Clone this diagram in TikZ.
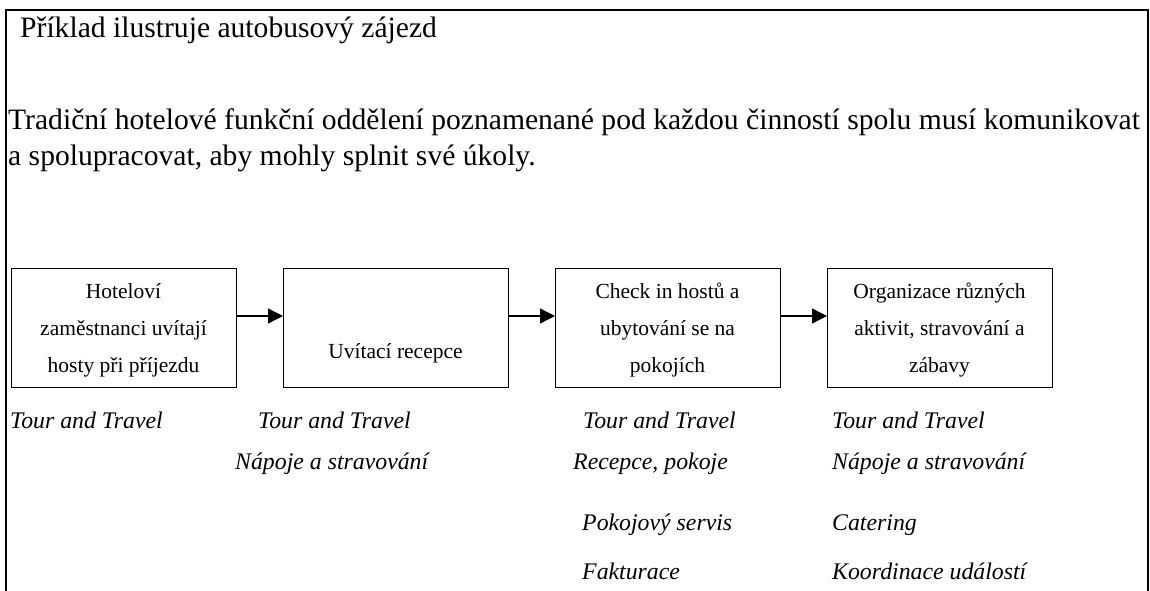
\documentclass[tikz,border=0pt]{standalone}
\usepackage{fontspec}
\setmainfont{Liberation Serif}
\usetikzlibrary{arrows.meta}
\begin{document}
\begin{tikzpicture}[x=1pt,y=-1pt,
  body/.style={font=\fontsize{29.6}{34}\selectfont, anchor=base west, inner sep=0pt},
  lab/.style={font=\fontsize{23.8}{28}\selectfont\itshape, anchor=base west, inner sep=0pt},
  boxtxt/.style={font=\fontsize{21.5}{25}\selectfont, anchor=base, inner sep=0pt},
  stepbox/.style={draw, line width=1.3pt, minimum width=225pt, minimum height=119pt, inner sep=0pt, anchor=north west},
  conn/.style={line width=1.3pt, -{Triangle[length=15pt,width=15pt]}}
]
\useasboundingbox (0,0) rectangle (1150,591);
\draw[line width=2pt] (6,591) -- (6,10) -- (1148,10) -- (1148,591);

\node[body] (t1) at (20,38) {Příklad ilustruje autobusový zájezd};
\node[body] (t2) at (8,129) {Tradiční hotelové funkční oddělení poznamenané pod každou činností spolu musí komunikovat};
\node[body] (t3) at (8,165) {a spolupracovat, aby mohly splnit své úkoly.};

\node[stepbox] (b1) at (11,268) {};
\node[stepbox] (b2) at (283,268) {};
\node[stepbox] (b3) at (555,268) {};
\node[stepbox] (b4) at (827,268) {};

\node[boxtxt] (b1a) at (123.5,298) {Hoteloví};
\node[boxtxt] (b1b) at (123.5,335) {zaměstnanci uvítají};
\node[boxtxt] (b1c) at (123.5,372) {hosty při příjezdu};
\node[boxtxt] (b2a) at (395.5,358) {Uvítací recepce};
\node[boxtxt] (b3a) at (667.5,298) {Check in hostů a};
\node[boxtxt] (b3b) at (667.5,335) {ubytování se na};
\node[boxtxt] (b3c) at (667.5,372) {pokojích};
\node[boxtxt] (b4a) at (939.5,298) {Organizace různých};
\node[boxtxt] (b4b) at (939.5,335) {aktivit, stravování a};
\node[boxtxt] (b4c) at (939.5,372) {zábavy};

\coordinate (a1) at (236,316);
\coordinate (a2) at (508,316);
\coordinate (a3) at (780,316);
\draw[conn] (a1) -- (a1 -| b2.west);
\draw[conn] (a2) -- (a2 -| b3.west);
\draw[conn] (a3) -- (a3 -| b4.west);

\node[lab] (l11) at (10,428) {Tour and Travel};
\node[lab] (l21) at (258,428) {Tour and Travel};
\node[lab] (l22) at (235,469) {Nápoje a stravování};
\node[lab] (l31) at (583,428) {Tour and Travel};
\node[lab] (l32) at (573,469) {Recepce, pokoje};
\node[lab] (l33) at (582,530) {Pokojový servis};
\node[lab] (l34) at (582,579) {Fakturace};
\node[lab] (l41) at (832,428) {Tour and Travel};
\node[lab] (l42) at (832,469) {Nápoje a stravování};
\node[lab] (l43) at (832,530) {Catering};
\node[lab] (l44) at (832,579) {Koordinace událostí};
\end{tikzpicture}
\end{document}
